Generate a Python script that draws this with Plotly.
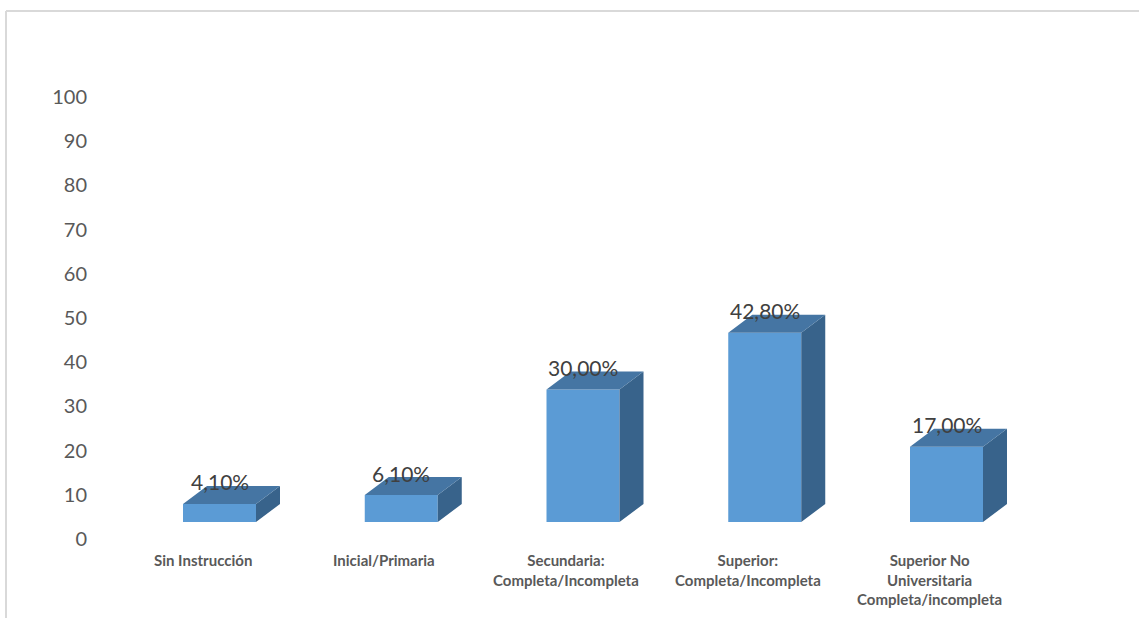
import plotly.graph_objects as go

# ---- data -------------------------------------------------------------
categories = [
    "Sin Instrucción",
    "Inicial/Primaria",
    "Secundaria:<br>Completa/Incompleta",
    "Superior:<br>Completa/Incompleta",
    "Superior No<br>Universitaria<br>Completa/incompleta",
]
values = [4.1, 6.1, 30.0, 42.8, 17.0]
y_ticks = list(range(0, 101, 10))

# ---- geometry (pixels -> axis units) ---------------------------------
W, H = 1139, 618
ML = 95                 # left margin holding the value-axis labels
PX_PER_UNIT = 4.42      # vertical pixels per percentage point
Y0_PX = 539             # pixel row of the "0" tick
X0_PX = 219.5           # pixel column of the first column's front centre
SLOT_PX = 181.75        # pixel spacing between columns

y_lo = (Y0_PX - H) / PX_PER_UNIT
y_hi = Y0_PX / PX_PER_UNIT
x_lo = (ML - X0_PX) / SLOT_PX
x_hi = (W - X0_PX) / SLOT_PX

FLOOR = (Y0_PX - 522) / PX_PER_UNIT   # base of the front faces
BAR_W = 73 / SLOT_PX                  # front face width
DEPTH_X = 24 / SLOT_PX                # 3-D depth, horizontal part
DEPTH_Y = 18 / PX_PER_UNIT            # 3-D depth, vertical part

FRONT = "#5b9bd5"
TOP = "#4575a3"
SIDE = "#38638b"

idx = list(range(len(values)))

# top and side faces of the 3-D columns, built from the values
top_x, top_y, side_x, side_y = [], [], [], []
for k, v in zip(idx, values):
    t = FLOOR + v
    l, r = k - BAR_W / 2, k + BAR_W / 2
    top_x += [l, r, r + DEPTH_X, l + DEPTH_X, l, None]
    top_y += [t, t, t + DEPTH_Y, t + DEPTH_Y, t, None]
    side_x += [r, r + DEPTH_X, r + DEPTH_X, r, r, None]
    side_y += [FLOOR, FLOOR + DEPTH_Y, t + DEPTH_Y, t, FLOOR, None]

fig = go.Figure()
fig.add_trace(go.Bar(
    x=idx, y=values, base=FLOOR, width=BAR_W,
    marker=dict(color=FRONT, line=dict(width=0)),
    hoverinfo="skip",
))
fig.add_trace(go.Scatter(
    x=side_x, y=side_y, mode="lines", fill="toself",
    fillcolor=SIDE, line=dict(width=0, color=SIDE), hoverinfo="skip",
))
fig.add_trace(go.Scatter(
    x=top_x, y=top_y, mode="lines", fill="toself",
    fillcolor=TOP, line=dict(width=0, color=TOP), hoverinfo="skip",
))

annotations = []
# value labels above each column
for k, v in zip(idx, values):
    annotations.append(dict(
        x=k, y=FLOOR + v + DEPTH_Y, xref="x", yref="y",
        text=f"{v:.2f}".replace(".", ",") + "%",
        showarrow=False, yanchor="middle", yshift=4,
        font=dict(family="Lato", size=21, color="#404040"),
    ))
# category labels under the columns
for k, c in zip(idx, categories):
    annotations.append(dict(
        x=k - 17 / SLOT_PX, y=(Y0_PX - 549) / PX_PER_UNIT,
        xref="x", yref="y", text=c, showarrow=False,
        xanchor="center", yanchor="top", align="center",
        font=dict(family="Lato", size=15, color="#595959", weight="bold"),
    ))

# chart-area frame (top and left edges)
pw = W - ML
def px_x(p):
    return (p - ML) / pw
def px_y(p):
    return (H - p) / H

frame = dict(color="#d9d9d9", width=2)
shapes = [
    dict(type="line", xref="paper", yref="paper",
         x0=px_x(6), y0=px_y(11), x1=px_x(W + 5), y1=px_y(11), line=frame),
    dict(type="line", xref="paper", yref="paper",
         x0=px_x(6), y0=px_y(11), x1=px_x(6), y1=px_y(H + 5), line=frame),
]

fig.update_layout(
    width=W, height=H,
    margin=dict(l=ML, r=0, t=0, b=0),
    paper_bgcolor="white", plot_bgcolor="white",
    showlegend=False,
    annotations=annotations,
    shapes=shapes,
    xaxis=dict(range=[x_lo, x_hi], visible=False, fixedrange=True),
    yaxis=dict(
        range=[y_lo, y_hi], tickvals=y_ticks, ticktext=[str(t) for t in y_ticks],
        showgrid=False, zeroline=False, showline=False, ticks="",
        ticklabelstandoff=7, automargin=False, fixedrange=True,
        tickfont=dict(family="Lato", size=20, color="#595959"),
    ),
)

fig.write_html("out.html", config={"displayModeBar": False})
